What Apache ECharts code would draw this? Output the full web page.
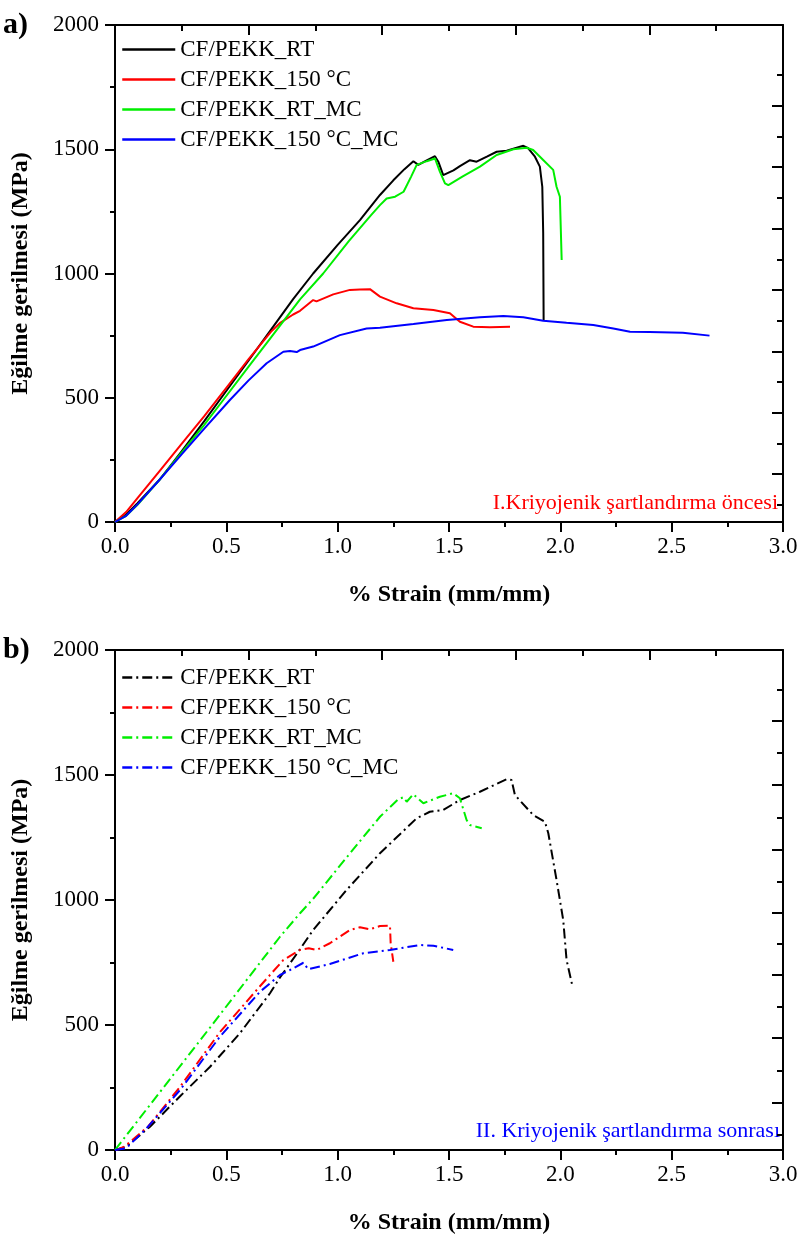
<!DOCTYPE html>
<html>
<head>
<meta charset="utf-8">
<script src="https://cdn.jsdelivr.net/npm/echarts@6/dist/echarts.min.js"></script>
<style>
  html, body { margin: 0; padding: 0; background: #fff; }
  #chart { width: 802px; height: 1241px; }
</style>
</head>
<body>
<div id="chart"></div>
<script>
// Eğilme gerilmesi - % strain curves, before (a) and after (b) cryogenic conditioning
var seriesNames = ['CF/PEKK_RT', 'CF/PEKK_150 °C', 'CF/PEKK_RT_MC', 'CF/PEKK_150 °C_MC'];
var seriesColors = ['#000000', '#ff0000', '#00ee00', '#0000ff'];

// (a) kriyojenik öncesi — [strain %, MPa]
var rtA = [[0,0],[0.05,30],[0.1,75],[0.2,170],[0.3,285],[0.4,405],[0.47,491],[0.6,650],[0.7,773],[0.8,897],[0.89,1000],[1.0,1115],[1.1,1215],[1.19,1316],[1.25,1375],[1.3,1420],[1.34,1452],[1.362,1437],[1.40,1455],[1.437,1472],[1.452,1450],[1.474,1396],[1.482,1393],[1.52,1415],[1.549,1432],[1.594,1456],[1.624,1450],[1.67,1470],[1.714,1490],[1.759,1494],[1.804,1506],[1.834,1514],[1.856,1504],[1.886,1470],[1.908,1430],[1.919,1349],[1.923,1162],[1.925,813]];
var hotA = [[0,0],[0.05,40],[0.1,95],[0.2,205],[0.3,315],[0.4,425],[0.5,540],[0.6,655],[0.7,765],[0.74,800],[0.8,835],[0.831,850],[0.89,893],[0.905,888],[0.98,916],[1.055,934],[1.1,936],[1.145,937],[1.19,907],[1.265,880],[1.34,860],[1.43,853],[1.504,840],[1.549,806],[1.609,786],[1.684,784],[1.774,786]];
var rtMcA = [[0,0],[0.05,25],[0.1,68],[0.2,170],[0.3,280],[0.4,390],[0.486,491],[0.6,625],[0.7,742],[0.831,896],[0.935,1000],[1.05,1130],[1.15,1235],[1.19,1275],[1.22,1302],[1.258,1309],[1.296,1329],[1.33,1390],[1.355,1437],[1.40,1452],[1.437,1463],[1.445,1457],[1.459,1410],[1.482,1363],[1.497,1356],[1.56,1390],[1.639,1430],[1.714,1477],[1.789,1500],[1.849,1506],[1.878,1497],[1.923,1457],[1.968,1417],[1.983,1349],[1.998,1309],[2.006,1054]];
var hotMcA = [[0,0],[0.05,25],[0.1,70],[0.2,170],[0.3,273],[0.4,375],[0.516,491],[0.6,570],[0.681,639],[0.756,685],[0.786,688],[0.816,684],[0.831,692],[0.89,706],[1.01,752],[1.13,779],[1.19,782],[1.34,797],[1.49,813],[1.639,824],[1.744,829],[1.834,824],[1.923,810],[2.028,802],[2.148,793],[2.238,779],[2.313,766],[2.40,765],[2.55,762],[2.67,750]];

// (b) kriyojenik sonrası
var rtB = [[0,0],[0.05,13],[0.157,93],[0.29,213],[0.427,333],[0.561,467],[0.696,627],[0.741,690],[0.823,793],[0.89,880],[1.04,1040],[1.19,1187],[1.355,1327],[1.414,1353],[1.474,1360],[1.549,1400],[1.639,1433],[1.759,1483],[1.781,1480],[1.796,1420],[1.878,1340],[1.931,1313],[1.946,1267],[1.983,1080],[2.013,920],[2.028,760],[2.055,653]];
var hotB = [[0,0],[0.02,5],[0.045,15],[0.15,95],[0.29,250],[0.47,470],[0.651,655],[0.756,760],[0.831,800],[0.87,807],[0.906,800],[0.965,827],[1.055,880],[1.1,891],[1.145,883],[1.19,896],[1.235,897],[1.238,827],[1.25,753]];
var rtMcB = [[0,0],[0.427,490],[0.741,853],[0.831,947],[0.89,1005],[1.04,1170],[1.19,1333],[1.272,1403],[1.295,1411],[1.31,1393],[1.34,1423],[1.385,1387],[1.459,1413],[1.519,1427],[1.549,1407],[1.579,1320],[1.594,1300],[1.647,1287]];
var hotMcB = [[0,0],[0.02,3],[0.05,7],[0.142,87],[0.292,240],[0.471,453],[0.651,633],[0.741,700],[0.786,720],[0.846,749],[0.868,723],[0.965,744],[1.115,787],[1.235,800],[1.37,820],[1.43,817],[1.519,800]];

// sağ eksendeki ayrı tick konumları (MPa cinsinden)
var rightMajorA = [193, 440, 687, 934, 1181, 1428, 1675];
var rightMinorA = [70, 316, 563, 810, 1057, 1304, 1551, 1798];
var rightMajorB = [188, 448, 700, 948, 1200, 1460, 1716];
var rightMinorB = [62, 318, 574, 824, 1074, 1330, 1588, 1843];

var serif = '"Liberation Serif", "Times New Roman", serif';
var black = '#000';

function bottomAxis(gi) {
  return {
    type: 'value', gridIndex: gi, position: 'bottom', min: 0, max: 3, interval: 0.5,
    axisLine: { show: true, onZero: false, lineStyle: { color: black, width: 2 } },
    axisTick: { show: true, inside: false, length: 10, lineStyle: { color: black, width: 2 } },
    minorTick: { show: true, splitNumber: 2, length: 5, lineStyle: { color: black, width: 2 } },
    axisLabel: { margin: 13, fontSize: 23, fontFamily: serif, color: black, formatter: function (v) { return v.toFixed(1); } },
    splitLine: { show: false },
    name: '% Strain (mm/mm)', nameLocation: 'middle', nameGap: 61,
    nameTextStyle: { fontSize: 24, fontWeight: 'bold', fontFamily: serif, color: black }
  };
}
function topAxis(gi) {
  return {
    type: 'value', gridIndex: gi, position: 'top', min: 0, max: 3, interval: 0.6,
    axisLine: { show: true, onZero: false, lineStyle: { color: black, width: 2 } },
    axisTick: { show: true, inside: true, length: 10, lineStyle: { color: black, width: 2 } },
    minorTick: { show: true, splitNumber: 2, length: 6, lineStyle: { color: black, width: 2 } },
    axisLabel: { show: false },
    splitLine: { show: false }
  };
}
function leftAxis(gi) {
  return {
    type: 'value', gridIndex: gi, position: 'left', min: 0, max: 2000, interval: 500,
    axisLine: { show: true, onZero: false, lineStyle: { color: black, width: 2 } },
    axisTick: { show: true, inside: false, length: 10, lineStyle: { color: black, width: 2 } },
    minorTick: { show: true, splitNumber: 2, length: 5, lineStyle: { color: black, width: 2 } },
    axisLabel: { margin: 16, fontSize: 23, fontFamily: serif, color: black, formatter: function (v) { return String(v); } },
    splitLine: { show: false },
    name: 'Eğilme gerilmesi (MPa)', nameLocation: 'middle', nameGap: 82,
    nameTextStyle: { fontSize: 24, fontWeight: 'bold', fontFamily: serif, color: black }
  };
}
function rightAxis(gi, ticks, len, showLine) {
  return {
    type: 'value', gridIndex: gi, position: 'right', min: 0, max: 2000,
    axisLine: { show: showLine, onZero: false, lineStyle: { color: black, width: 2 } },
    axisTick: { show: true, inside: true, length: len, customValues: ticks, lineStyle: { color: black, width: 2 } },
    axisLabel: { show: false },
    splitLine: { show: false }
  };
}

function makeSeries(names, datas, xi, yi, dash) {
  return datas.map(function (d, i) {
    return {
      name: names[i], type: 'line', xAxisIndex: xi, yAxisIndex: yi,
      data: d, symbol: 'none', showSymbol: false, animation: false,
      lineStyle: { color: seriesColors[i], width: 2, type: dash },
      itemStyle: { color: seriesColors[i] }
    };
  });
}

function makeLegend(names, top) {
  return {
    data: names, orient: 'vertical', left: 116, top: top,
    itemWidth: 53, itemHeight: 14, itemGap: 7,
    itemStyle: { opacity: 0 },
    lineStyle: { width: 2.5 },
    textStyle: { fontSize: 23, fontFamily: serif, color: black }
  };
}

var namesA = seriesNames;
var namesB = seriesNames.map(function (n) { return n + ' '; });
var dashDot = [10, 4, 2, 4];

var chart = echarts.init(document.getElementById('chart'));
chart.setOption({
  backgroundColor: '#fff',
  animation: false,
  grid: [
    { left: 115, top: 25, width: 668, height: 497 },
    { left: 115, top: 650, width: 668, height: 500 }
  ],
  xAxis: [bottomAxis(0), topAxis(0), bottomAxis(1), topAxis(1)],
  yAxis: [
    leftAxis(0), rightAxis(0, rightMajorA, 11, true), rightAxis(0, rightMinorA, 6, false),
    leftAxis(1), rightAxis(1, rightMajorB, 11, true), rightAxis(1, rightMinorB, 6, false)
  ],
  legend: [makeLegend(namesA, 33), makeLegend(namesB, 661)],
  graphic: [
    { type: 'text', left: 3, top: 10, style: { text: 'a)', font: 'bold 30px ' + serif, fill: black } },
    { type: 'text', left: 3, top: 635, style: { text: 'b)', font: 'bold 30px ' + serif, fill: black } },
    { type: 'text', right: 24, top: 492, style: { text: 'I.Kriyojenik şartlandırma öncesi', font: '22px ' + serif, fill: '#ff0000' } },
    { type: 'text', right: 22, top: 1120, style: { text: 'II. Kriyojenik şartlandırma sonrası', font: '22px ' + serif, fill: '#0000ff' } }
  ],
  series: makeSeries(namesA, [rtA, hotA, rtMcA, hotMcA], 0, 0, 'solid')
    .concat(makeSeries(namesB, [rtB, hotB, rtMcB, hotMcB], 2, 3, dashDot))
});
window.addEventListener('resize', function () { chart.resize(); });
</script>
</body>
</html>
